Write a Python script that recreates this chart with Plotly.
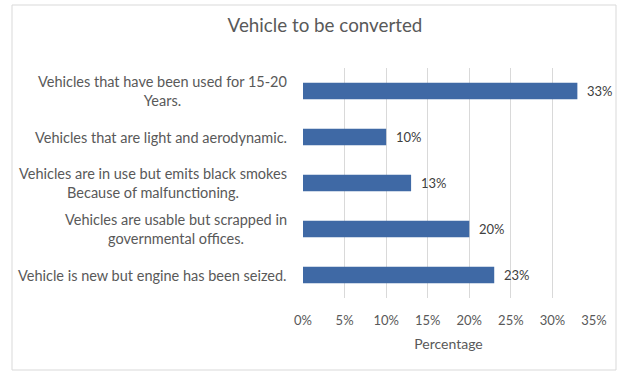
import plotly.graph_objects as go

# Survey categories and their shares
categories = [
    "Vehicles that have been used for 15-20<br>Years.",
    "Vehicles that are light and aerodynamic.",
    "Vehicles are in use but emits black smokes<br>Because of malfunctioning.",
    "Vehicles are usable but scrapped in<br>governmental offices.",
    "Vehicle is new but engine has been seized.",
]
shares = [0.33, 0.10, 0.13, 0.20, 0.23]
tick_values = [0, 0.05, 0.10, 0.15, 0.20, 0.25, 0.30, 0.35]
tick_labels = ["0%", "5%", "10%", "15%", "20%", "25%", "30%", "35%"]

W, H = 627, 374
ML, MR, MT, MB = 303, 33, 68, 76
FONT = "Lato"
GREY = "#595959"

fig = go.Figure(
    go.Bar(
        x=shares,
        y=categories,
        orientation="h",
        marker=dict(color="#3F69A5", line=dict(width=0)),
        width=0.36,
        hoverinfo="x+y",
    )
)

# category labels, centred line by line and right-aligned against the axis
for cat in categories:
    fig.add_annotation(
        x=0, y=cat, xref="x", yref="y",
        text=cat, showarrow=False,
        xanchor="right", yanchor="middle", align="center",
        xshift=-14,
        font=dict(family=FONT, size=14.5, color=GREY),
    )

# value labels next to each bar
for cat, v in zip(categories, shares):
    fig.add_annotation(
        x=v, y=cat, xref="x", yref="y",
        text=f"{v:.0%}", showarrow=False,
        xanchor="left", yanchor="middle",
        xshift=8,
        font=dict(family=FONT, size=13, color="#404040"),
    )

# outer frame around the whole chart, expressed in plot-area paper units
pw, ph = W - ML - MR, H - MT - MB
def px_x(v):
    return (v - ML) / pw
def px_y(v):
    return (H - MB - v) / ph

fig.add_shape(
    type="rect", xref="paper", yref="paper",
    x0=px_x(12), x1=px_x(616), y0=px_y(370), y1=px_y(5),
    line=dict(color="#D9D9D9", width=1), fillcolor="rgba(0,0,0,0)", layer="below",
)

fig.update_layout(
    width=W, height=H,
    margin=dict(l=ML, r=MR, t=MT, b=MB),
    paper_bgcolor="white", plot_bgcolor="white",
    showlegend=False,
    title=dict(
        text="Vehicle to be converted",
        x=px_x(325), xanchor="center", xref="paper",
        y=1 - 25 / H, yanchor="middle",
        font=dict(family=FONT, size=18.8, color=GREY),
    ),
    xaxis=dict(
        range=[0, 0.35],
        tickvals=tick_values, ticktext=tick_labels,
        showgrid=True, gridcolor="#D9D9D9", gridwidth=1,
        zeroline=False, showline=False,
        tickfont=dict(family=FONT, size=13, color=GREY),
        ticklabelstandoff=13,
        title=dict(text="Percentage", font=dict(family=FONT, size=14, color=GREY), standoff=12),
        fixedrange=True,
    ),
    yaxis=dict(
        autorange="reversed",
        showgrid=False, zeroline=False, showline=False,
        showticklabels=False,
        fixedrange=True,
    ),
    bargap=0.64,
)

fig.write_html("out.html")
